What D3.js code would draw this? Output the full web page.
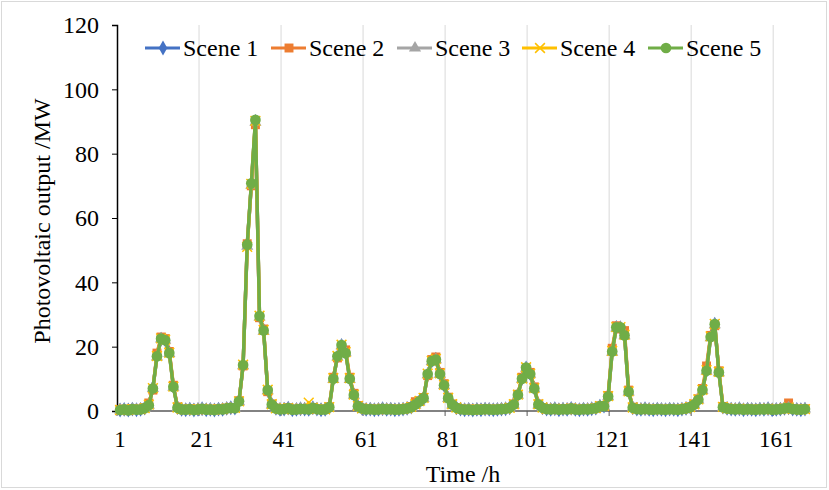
<!DOCTYPE html>
<html>
<head>
<meta charset="utf-8">
<script src="https://cdn.jsdelivr.net/npm/d3@7"></script>
<style>
  body { margin: 0; background: #fff; }
</style>
</head>
<body>
<div id="chart"></div>
<script>
// hours 1..168
var hours = d3.range(1, 169);

var xTickLabels = [1, 21, 41, 61, 81, 101, 121, 141, 161];
var yTickLabels = [0, 20, 40, 60, 80, 100, 120];

var sceneNames = ["Scene 1", "Scene 2", "Scene 3", "Scene 4", "Scene 5"];

// photovoltaic output (MW), one row per 24 h
var scene1 = [].concat(
  [0.3,0.5,0.3,0.6,0.4,0.5,0.9,1.9,7.2,17.2,22.3,22.1,18.2,7.6,1.1,0.5,0.4,0.6,0.3,0.5,0.7,0.4,0.5,0.3],
  [0.6,0.5,0.8,1.0,0.9,3.1,14.2,51.5,70.5,90.0,29.4,25.1,6.4,2.0,0.8,0.5,0.6,0.9,0.4,0.5,0.7,0.6,0.5,1.0],
  [0.6,0.4,0.5,1.2,10.1,16.9,20.4,18.2,10.1,5.1,1.5,0.8,0.5,0.6,0.4,0.5,0.7,0.5,0.6,0.4,0.5,0.6,0.8,1.2],
  [2.0,3.0,4.0,11.4,15.6,16.1,11.6,8.1,4.0,2.0,1.0,0.6,0.4,0.5,0.3,0.5,0.4,0.6,0.5,0.4,0.5,0.6,0.7,1.0],
  [2.0,5.0,10.1,13.4,11.6,7.1,2.0,1.0,0.6,0.5,0.7,0.4,0.6,0.5,0.8,0.5,0.4,0.6,0.5,0.7,0.9,1.5,1.5,4.6],
  [18.6,26.0,25.9,23.6,6.1,1.0,0.6,0.5,0.7,0.5,0.4,0.6,0.5,0.4,0.6,0.5,0.4,0.6,0.8,1.2,2.0,3.5,6.6,12.6],
  [23.1,27.0,12.1,1.2,0.8,0.6,0.5,0.7,0.4,0.6,0.5,0.4,0.6,0.5,0.7,0.4,0.5,0.6,0.8,1.0,0.6,0.5,0.4,0.6]
);

var scene2 = [].concat(
  [0.4,0.6,0.3,0.7,0.5,0.6,1.0,2.5,6.5,18.0,23.0,22.5,18.5,8.0,1.3,0.6,0.5,0.7,0.4,0.6,0.8,0.5,0.6,0.4],
  [0.7,0.6,0.9,1.1,1.0,3.2,14.0,52.0,70.0,89.0,29.0,25.5,6.0,2.2,0.9,0.6,0.7,1.0,0.5,0.6,0.8,0.7,0.6,1.1],
  [0.7,0.5,0.6,1.3,10.5,16.5,20.0,19.0,10.5,5.5,1.7,0.9,0.6,0.7,0.5,0.6,0.8,0.6,0.7,0.5,0.6,0.7,0.9,1.4],
  [2.9,3.2,4.2,11.0,16.0,16.8,12.0,8.5,4.3,2.2,1.1,0.7,0.5,0.6,0.4,0.6,0.5,0.7,0.6,0.5,0.6,0.7,0.8,1.1],
  [2.2,5.2,10.5,13.0,12.0,7.5,2.2,1.1,0.7,0.6,0.8,0.5,0.7,0.6,0.9,0.6,0.5,0.7,0.6,0.8,1.0,1.6,1.7,4.8],
  [19.5,26.5,25.5,25.0,6.5,1.2,0.7,0.6,0.8,0.6,0.5,0.7,0.6,0.5,0.7,0.6,0.5,0.7,0.9,1.3,2.2,3.8,7.0,14.0],
  [23.5,26.5,12.5,1.4,0.9,0.7,0.6,0.8,0.5,0.7,0.6,0.5,0.7,0.6,0.8,0.5,0.6,0.7,0.9,2.5,0.7,0.6,0.5,0.7]
);

var scene3 = [].concat(
  [0.3,0.4,0.2,0.6,0.4,0.5,0.8,1.8,7.0,16.8,22.4,22.0,17.9,7.4,1.0,0.5,0.4,0.5,0.3,0.5,0.6,0.4,0.5,0.3],
  [0.5,0.5,0.8,0.9,0.9,2.9,14.1,51.2,70.2,89.8,29.2,24.8,6.3,1.9,0.7,0.5,0.6,0.8,0.4,0.5,0.7,0.6,0.5,0.9],
  [0.6,0.4,0.5,1.1,9.8,16.8,20.3,18.1,9.8,4.9,1.4,0.8,0.5,0.6,0.4,0.5,0.6,0.5,0.6,0.4,0.5,0.6,0.8,1.1],
  [1.9,2.9,3.9,11.3,15.4,15.9,11.4,7.9,3.9,1.9,1.0,0.6,0.4,0.5,0.3,0.5,0.4,0.6,0.5,0.4,0.5,0.6,0.7,0.9],
  [1.9,4.9,9.9,13.3,11.4,6.9,1.9,1.0,0.6,0.5,0.7,0.4,0.6,0.5,0.7,0.5,0.4,0.6,0.5,0.7,0.9,1.4,1.4,4.4],
  [18.3,25.8,25.8,23.4,5.9,1.0,0.6,0.5,0.7,0.5,0.4,0.6,0.5,0.4,0.6,0.5,0.4,0.6,0.8,1.1,1.9,3.4,6.4,12.4],
  [22.8,26.8,11.9,1.1,0.8,0.6,0.5,0.7,0.4,0.6,0.5,0.4,0.6,0.5,0.7,0.4,0.5,0.6,0.8,1.0,0.6,0.5,0.4,0.6]
);

var scene4 = [].concat(
  [0.3,0.5,0.3,0.6,0.5,0.5,0.9,2.0,7.1,17.1,22.6,22.2,18.1,7.6,1.1,0.6,0.4,0.6,0.4,0.5,0.7,0.5,0.5,0.4],
  [0.6,0.5,0.8,1.0,1.0,3.0,14.4,51.0,70.6,90.2,29.6,25.2,6.6,2.1,0.8,0.6,0.6,0.9,0.5,0.5,0.7,0.6,2.6,1.0],
  [0.6,0.5,0.5,1.2,10.2,17.1,20.6,18.3,10.2,5.1,1.6,0.8,0.6,0.6,0.5,0.5,0.7,0.5,0.6,0.5,0.5,0.6,0.8,1.3],
  [2.1,3.1,4.1,11.6,15.6,16.2,11.7,8.1,4.1,2.1,1.1,0.6,0.5,0.5,0.4,0.5,0.5,0.6,0.5,0.5,0.5,0.6,0.7,1.0],
  [2.1,5.1,10.1,13.6,11.6,7.1,2.1,1.1,0.6,0.6,0.7,0.5,0.6,0.6,0.8,0.5,0.5,0.6,0.6,0.7,0.9,1.5,1.6,4.6],
  [18.7,26.1,26.1,23.7,6.1,1.1,0.6,0.6,0.7,0.5,0.5,0.6,0.5,0.5,0.6,0.5,0.5,0.6,0.8,1.2,2.1,3.6,6.6,12.7],
  [23.2,27.1,12.2,1.3,0.8,0.6,0.6,0.7,0.5,0.6,0.5,0.5,0.6,0.5,0.7,0.5,0.5,0.6,0.8,1.1,0.6,0.6,0.4,0.6]
);

var scene5 = [].concat(
  [0.3,0.5,0.2,0.6,0.4,0.5,0.9,1.8,7.0,17.0,22.5,22.0,18.0,7.5,1.0,0.5,0.4,0.6,0.3,0.5,0.7,0.4,0.5,0.3],
  [0.6,0.5,0.8,1.0,0.9,3.0,14.3,51.7,70.8,90.5,29.5,25.0,6.5,2.0,0.8,0.5,0.6,0.9,0.4,0.5,0.7,0.6,0.5,1.0],
  [0.6,0.4,0.5,1.2,10.0,17.0,20.5,18.0,10.0,5.0,1.5,0.8,0.5,0.6,0.4,0.5,0.7,0.5,0.6,0.4,0.5,0.6,0.8,1.2],
  [2.0,3.0,4.0,11.5,15.5,16.0,11.5,8.0,4.0,2.0,1.0,0.6,0.4,0.5,0.3,0.5,0.4,0.6,0.5,0.4,0.5,0.6,0.7,1.0],
  [2.0,5.0,10.0,13.5,11.5,7.0,2.0,1.0,0.6,0.5,0.7,0.4,0.6,0.5,0.8,0.5,0.4,0.6,0.5,0.7,0.9,1.5,1.5,4.5],
  [18.5,26.0,26.0,23.5,6.0,1.0,0.6,0.5,0.7,0.5,0.4,0.6,0.5,0.4,0.6,0.5,0.4,0.6,0.8,1.2,2.0,3.5,6.5,12.5],
  [23.0,27.0,12.0,1.2,0.8,0.6,0.5,0.7,0.4,0.6,0.5,0.4,0.6,0.5,0.7,0.4,0.5,0.6,0.8,1.0,0.6,0.5,0.4,0.6]
);

var sceneValues = [scene1, scene2, scene3, scene4, scene5];
var sceneColors = ["#4472c4", "#ed7d31", "#a5a5a5", "#ffc000", "#70ad47"];
var sceneSymbols = [d3.symbolDiamond, d3.symbolSquare, d3.symbolTriangle, d3.symbolX, d3.symbolCircle];
var symbolSizes = [64, 80, 64, 64, 90];

var serif = "Liberation Serif, Times New Roman, DejaVu Serif, serif";

function PvChart(_parentElement, _config) {
  this.parentElement = _parentElement;
  this.config = _config;
  this.initVis();
}

PvChart.prototype.initVis = function () {
  var vis = this;

  vis.svg = d3.select("#" + vis.parentElement).append("svg")
    .attr("width", vis.config.width)
    .attr("height", vis.config.height)
    .style("font-family", serif);

  // light frame round the whole chart
  vis.svg.append("rect")
    .attr("x", 1.5).attr("y", 1.5)
    .attr("width", vis.config.width - 4).attr("height", vis.config.height - 4)
    .attr("fill", "none").attr("stroke", "#d9d9d9");

  vis.x = d3.scaleBand().domain(hours).range([117, 806]);
  vis.y = d3.scaleLinear().domain([0, 120]).range([411, 25]);

  // point sits a bit right of the band's left edge
  vis.cx = function (h) { return vis.x(h) + vis.x.bandwidth() * 0.75; };

  vis.renderVis();
};

PvChart.prototype.renderVis = function () {
  var vis = this;
  var y0 = vis.y(0);

  // vertical gridlines at the category boundaries
  vis.svg.append("g").selectAll("line")
    .data(xTickLabels.slice(1))
    .enter().append("line")
      .attr("x1", function (d) { return vis.x(d); })
      .attr("x2", function (d) { return vis.x(d); })
      .attr("y1", vis.y(120)).attr("y2", y0)
      .attr("stroke", "#d9d9d9").attr("stroke-width", 1);

  // x axis: line at zero with ticks between categories
  vis.svg.append("line")
    .attr("x1", vis.x.range()[0]).attr("x2", vis.x.range()[1])
    .attr("y1", y0).attr("y2", y0)
    .attr("stroke", "#595959").attr("stroke-width", 1.5);

  vis.svg.append("g").selectAll("line")
    .data(xTickLabels)
    .enter().append("line")
      .attr("x1", function (d) { return vis.x(d); })
      .attr("x2", function (d) { return vis.x(d); })
      .attr("y1", y0).attr("y2", y0 + 5)
      .attr("stroke", "#595959");

  vis.svg.append("g").selectAll("text")
    .data(xTickLabels)
    .enter().append("text")
      .attr("x", function (d) { return vis.cx(d); })
      .attr("y", 447)
      .attr("text-anchor", "middle")
      .style("font-family", serif)
      .style("font-size", "23px")
      .text(function (d) { return d; });

  // y axis
  var yAxis = d3.axisLeft(vis.y).tickValues(yTickLabels).tickSize(5).tickPadding(13);
  var yg = vis.svg.append("g")
    .attr("transform", "translate(" + vis.x.range()[0] + ",0)")
    .call(yAxis)
    .attr("font-family", null);
  yg.select(".domain").attr("stroke", "#000").attr("stroke-width", 1.5);
  yg.selectAll(".tick line").attr("stroke", "#000");
  yg.selectAll(".tick text")
    .style("font-size", "24px")
    .style("font-family", serif)
    .attr("fill", "#000");

  // axis titles
  vis.svg.append("text")
    .attr("x", 463).attr("y", 482)
    .attr("text-anchor", "middle")
    .style("font-family", serif)
    .style("font-size", "24px")
    .text("Time /h");

  vis.svg.append("text")
    .attr("transform", "translate(50,221) rotate(-90)")
    .attr("text-anchor", "middle")
    .style("font-family", serif)
    .style("font-size", "24px")
    .text("Photovoltaic output /MW");

  // series, scene 5 drawn last (on top)
  var line = d3.line()
    .x(function (d) { return vis.cx(d.h); })
    .y(function (d) { return vis.y(d.v); });

  sceneValues.forEach(function (vals, i) {
    var pts = hours.map(function (h, k) { return {h: h, v: vals[k]}; });
    var g = vis.svg.append("g").attr("class", "scene-" + (i + 1));

    g.append("path")
      .datum(pts)
      .attr("d", line)
      .attr("fill", "none")
      .attr("stroke", sceneColors[i])
      .attr("stroke-width", 3.4)
      .attr("stroke-linejoin", "round");

    var sym = d3.symbol().type(sceneSymbols[i]).size(symbolSizes[i]);
    g.selectAll("path.mk")
      .data(pts)
      .enter().append("path")
        .attr("class", "mk")
        .attr("transform", function (d) { return "translate(" + vis.cx(d.h) + "," + vis.y(d.v) + ")"; })
        .attr("d", sym)
        .attr("fill", i === 3 ? "none" : sceneColors[i])
        .attr("stroke", i === 3 ? sceneColors[i] : "none")
        .attr("stroke-width", 1.5);
  });

  // legend
  var legendX = [183, 309, 435, 560, 686];
  var ly = 48;
  var lg = vis.svg.append("g").selectAll("g")
    .data(sceneNames)
    .enter().append("g")
      .attr("transform", function (d, i) { return "translate(" + legendX[i] + "," + ly + ")"; });

  lg.append("line")
    .attr("x1", -38).attr("x2", -3)
    .attr("y1", 0).attr("y2", 0)
    .attr("stroke", function (d, i) { return sceneColors[i]; })
    .attr("stroke-width", 3);

  lg.append("path")
    .attr("transform", "translate(-20,0)")
    .attr("d", function (d, i) { return d3.symbol().type(sceneSymbols[i]).size(symbolSizes[i])(); })
    .attr("fill", function (d, i) { return i === 3 ? "none" : sceneColors[i]; })
    .attr("stroke", function (d, i) { return i === 3 ? sceneColors[i] : "none"; })
    .attr("stroke-width", 1.5);

  lg.append("text")
    .attr("x", 0).attr("y", 8)
    .style("font-family", serif)
    .style("font-size", "24px")
    .text(function (d) { return d; });
};

var chart = new PvChart("chart", {width: 829, height: 490});
</script>
</body>
</html>
